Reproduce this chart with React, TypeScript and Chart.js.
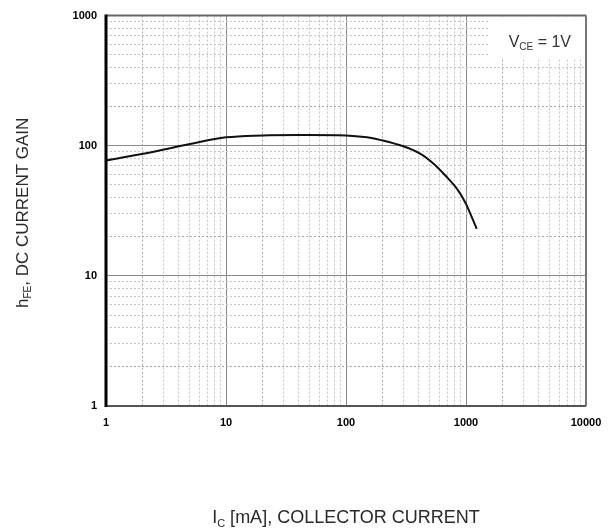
import React, { useEffect, useRef } from 'react';
import { Chart, registerables } from 'chart.js';

Chart.register(...registerables);

// Collector current (mA) and DC current gain
const IC_MA = [1, 2.5, 5, 10, 20, 40, 100, 150, 200, 300, 414, 534, 691, 836, 981, 1115, 1227];
const HFE = [77, 90, 103, 116, 120, 121, 120, 116, 110, 99, 87, 73, 57.5, 47, 37, 28.4, 23];

const X_TICK_LABELS = ['1', '10', '100', '1000', '10000'];
const Y_TICK_LABELS = ['1', '10', '100', '1000'];

const X_TITLE = [
  { t: 'I', sub: false },
  { t: 'C', sub: true },
  { t: ' [mA], COLLECTOR CURRENT', sub: false },
];
const Y_TITLE = [
  { t: 'h', sub: false },
  { t: 'FE', sub: true },
  { t: ', DC CURRENT GAIN', sub: false },
];
const NOTE = [
  { t: 'V', sub: false },
  { t: 'CE', sub: true },
  { t: ' = 1V', sub: false },
];

const FONT = '"Liberation Sans", Arial, Helvetica, sans-serif';

const isDecade = (v: number) => {
  const l = Math.log10(v);
  return Math.abs(l - Math.round(l)) < 1e-9;
};

const logTicks = (labels: string[]) => {
  const vals = labels.map(Number);
  const lo = Math.min(...vals);
  const hi = Math.max(...vals);
  const out: { value: number; major: boolean }[] = [];
  for (let d = lo; d <= hi; d *= 10) {
    for (let m = 1; m <= 9; m++) {
      const v = d * m;
      if (v > hi + 1e-9) break;
      out.push({ value: v, major: m === 1 });
    }
  }
  return out;
};

const gridColor = (ctx: any) => {
  const v = ctx.tick ? ctx.tick.value : 0;
  if (!v) return '#888';
  if (isDecade(v)) return '#8a8a8a';
  const m = Math.round(v / Math.pow(10, Math.floor(Math.log10(v) + 1e-9)));
  if (m === 2) return '#a8a8a8';
  return '#c4c4c4';
};
const gridDash = (ctx: any) => {
  const v = ctx.tick ? ctx.tick.value : 0;
  if (!v || isDecade(v)) return [];
  return [2, 2];
};

type Seg = { t: string; sub: boolean };

function drawRich(ctx: CanvasRenderingContext2D, segs: Seg[], x: number, y: number, angle: number, size: number, subSize: number, align: 'center' | 'right', color: string) {
  ctx.save();
  ctx.translate(x, y);
  ctx.rotate(angle);
  ctx.fillStyle = color;
  ctx.textAlign = 'left';
  ctx.textBaseline = 'alphabetic';
  const widths = segs.map((s) => {
    ctx.font = `${s.sub ? subSize : size}px ${FONT}`;
    return ctx.measureText(s.t).width;
  });
  const total = widths.reduce((a, b) => a + b, 0);
  let cx = align === 'center' ? -total / 2 : -total;
  segs.forEach((s, i) => {
    ctx.font = `${s.sub ? subSize : size}px ${FONT}`;
    ctx.fillText(s.t, cx, s.sub ? size * 0.2 : 0);
    cx += widths[i];
  });
  ctx.restore();
}

const decor = {
  id: 'decor',
  beforeDatasetsDraw(chart: any) {
    const { ctx, chartArea: a } = chart;
    ctx.save();
    ctx.fillStyle = '#ffffff';
    ctx.fillRect(a.right - 96, a.top + 1, 95, 42);
    ctx.restore();
  },
  afterDraw(chart: any) {
    const { ctx, chartArea: a } = chart;
    ctx.save();
    ctx.strokeStyle = '#666';
    ctx.lineWidth = 2;
    ctx.beginPath();
    ctx.moveTo(a.left, a.top);
    ctx.lineTo(a.right, a.top);
    ctx.stroke();
    ctx.strokeStyle = '#777';
    ctx.beginPath();
    ctx.moveTo(a.right, a.top);
    ctx.lineTo(a.right, a.bottom);
    ctx.stroke();
    ctx.strokeStyle = '#555';
    ctx.beginPath();
    ctx.moveTo(a.left, a.bottom);
    ctx.lineTo(a.right, a.bottom);
    ctx.stroke();
    ctx.strokeStyle = '#000';
    ctx.lineWidth = 3;
    ctx.beginPath();
    ctx.moveTo(a.left, a.top - 1);
    ctx.lineTo(a.left, a.bottom + 1);
    ctx.stroke();
    ctx.restore();

    const midX = (a.left + a.right) / 2;
    const midY = (a.top + a.bottom) / 2;
    drawRich(ctx, X_TITLE, midX, 523, 0, 18, 11, 'center', '#2a2a2a');
    drawRich(ctx, Y_TITLE, 28, midY + 2, -Math.PI / 2, 17, 10, 'center', '#2a2a2a');
    drawRich(ctx, NOTE, a.right - 15, a.top + 31, 0, 16, 10, 'right', '#333');
  },
};

export default function App() {
  const ref = useRef<HTMLCanvasElement | null>(null);

  useEffect(() => {
    if (!ref.current) return;
    const chart = new Chart(ref.current, {
      type: 'line',
      data: {
        datasets: [
          {
            data: IC_MA.map((x, i) => ({ x, y: HFE[i] })),
            borderColor: '#111',
            borderWidth: 2,
            pointRadius: 0,
            fill: false,
            tension: 0.35,
          },
        ],
      },
      options: {
        responsive: false,
        devicePixelRatio: 1,
        animation: false,
        layout: { padding: { left: 0, top: 14, right: 30, bottom: 0 } },
        plugins: { legend: { display: false }, tooltip: { enabled: false } },
        scales: {
          x: {
            type: 'logarithmic',
            min: Number(X_TICK_LABELS[0]),
            max: Number(X_TICK_LABELS[X_TICK_LABELS.length - 1]),
            afterBuildTicks: (scale: any) => {
              scale.ticks = logTicks(X_TICK_LABELS);
            },
            afterFit: (scale: any) => {
              scale.height = 125;
            },
            grid: { color: gridColor, lineWidth: 1, drawTicks: false },
            border: { display: false, dash: gridDash },
            ticks: {
              autoSkip: false,
              maxRotation: 0,
              padding: 10,
              color: '#000',
              font: { family: FONT, size: 11, weight: 'bold' },
              callback: (v: any) => (isDecade(Number(v)) ? X_TICK_LABELS.find((l) => Number(l) === Number(v)) ?? '' : ''),
            },
          },
          y: {
            type: 'logarithmic',
            min: Number(Y_TICK_LABELS[0]),
            max: Number(Y_TICK_LABELS[Y_TICK_LABELS.length - 1]),
            afterBuildTicks: (scale: any) => {
              scale.ticks = logTicks(Y_TICK_LABELS);
            },
            afterFit: (scale: any) => {
              scale.width = 106;
            },
            grid: { color: gridColor, lineWidth: 1, drawTicks: false },
            border: { display: false, dash: gridDash },
            ticks: {
              autoSkip: false,
              padding: 9,
              color: '#000',
              font: { family: FONT, size: 11, weight: 'bold' },
              callback: (v: any) => (isDecade(Number(v)) ? Y_TICK_LABELS.find((l) => Number(l) === Number(v)) ?? '' : ''),
            },
          },
        },
      } as any,
      plugins: [decor],
    });
    return () => chart.destroy();
  }, []);

  return (
    <div style={{ position: 'absolute', left: 0, top: 0, width: 616, height: 531, background: '#fff' }}>
      <canvas ref={ref} width={616} height={531} style={{ display: 'block' }} />
    </div>
  );
}
